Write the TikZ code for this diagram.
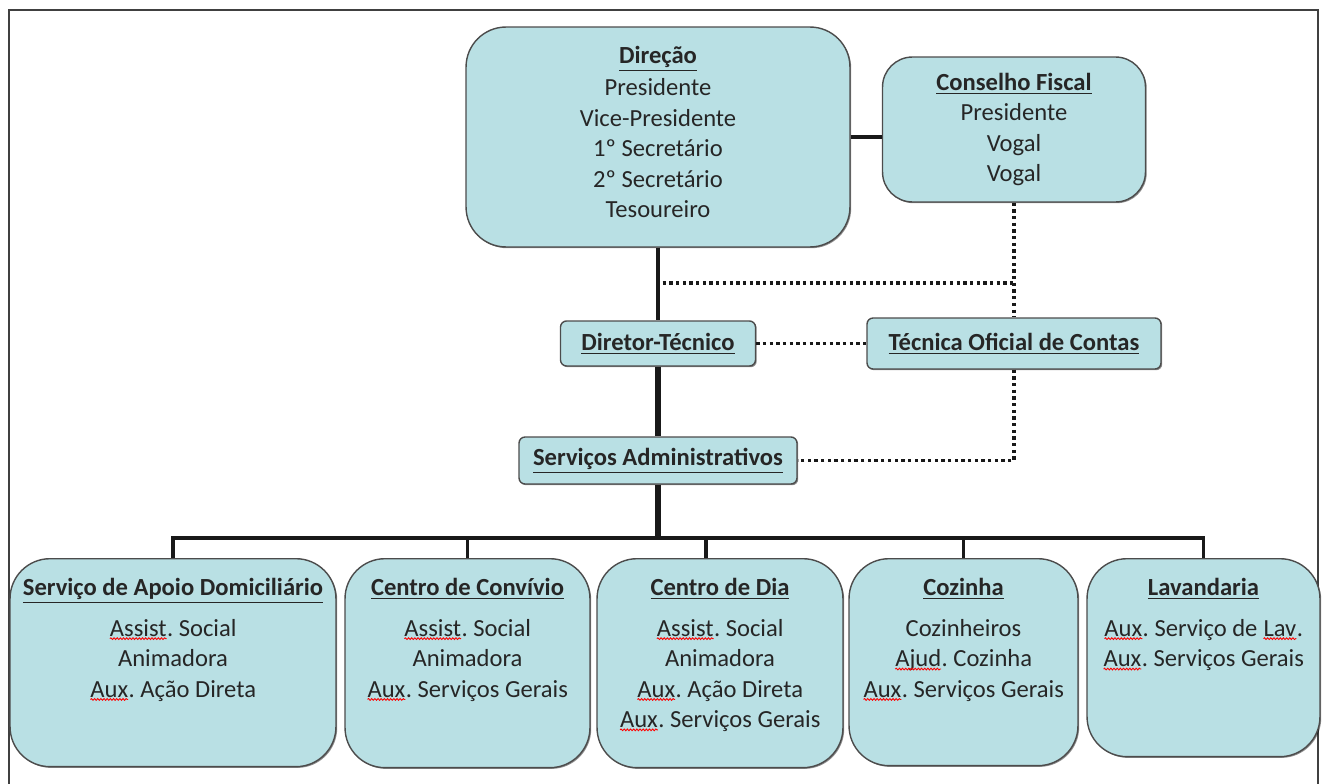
\documentclass[tikz,border=0pt]{standalone}
\usepackage{fontspec}
\setmainfont{Carlito}
\usepackage{tikz}
\usetikzlibrary{positioning,shadows,decorations.pathmorphing}
\definecolor{boxfill}{RGB}{185,224,228}
\definecolor{txtgray}{RGB}{38,38,38}
\tikzstyle{box}=[draw=black!70, fill=boxfill, line width=0.8pt, drop shadow={shadow xshift=0.7pt, shadow yshift=-0.7pt, opacity=0.45, fill=black}, font=\fontsize{14}{17.3}\selectfont, text=txtgray, align=center, inner sep=0pt]
\tikzstyle{bigbox}=[box, rounded corners=0.8cm]
\tikzstyle{smallbox}=[box, rounded corners=0.12cm]
\tikzstyle{txt}=[font=\fontsize{14}{17.3}\selectfont, text=txtgray, align=center, inner sep=0pt]
\tikzstyle{link}=[line width=1.9pt, black!90]
\tikzstyle{thicklink}=[line width=3.6pt, black!90]
\tikzstyle{dotlink}=[line width=1.9pt, black!90, dash pattern=on 1.9pt off 1.9pt]
\newcommand{\hd}[1]{\underline{\textbf{#1}}}
\newcommand{\sq}[1]{\tikz[baseline=(w.base)]{\node[inner sep=0pt, outer sep=0pt] (w) {#1};
    \draw[red, line width=0.5pt, decorate, decoration={snake, amplitude=0.5pt, segment length=1.8pt}]
        ([yshift=-1.2pt]w.base west) -- ([yshift=-1.2pt]w.base east);}}
\frenchspacing

\begin{document}
\begin{tikzpicture}[x=0.02cm, y=-0.02cm]
    \useasboundingbox (0,0) rectangle (1325,784);
    \draw[line width=1.1pt, black!75] (9,784) -- (9,10) -- (1318,10) -- (1318,784);
    % top level
    \node[bigbox, minimum width=7.68cm, minimum height=4.4cm] (dir) at (658,137)
        {\hd{Direção}\\[1pt] Presidente\\ Vice-Presidente\\ 1º Secretário\\ 2º Secretário\\ Tesoureiro\\[-11.5pt]};
    \node[bigbox, rounded corners=0.6cm, minimum width=5.26cm, minimum height=2.9cm] (cf) at (1014,129.5)
        {\hd{Conselho Fiscal}\\ Presidente\\ Vogal\\ Vogal};
    \node[smallbox, minimum width=3.9cm, minimum height=0.9cm] (dt) at (658,343.5) {\hd{Diretor-Técnico}};
    \node[smallbox, minimum width=5.88cm, minimum height=1.02cm] (toc) at (1014,343.5) {\hd{Técnica Oficial de Contas}};
    \node[smallbox, minimum width=5.56cm, minimum height=0.94cm] (sa) at (658,460.5) {\hd{Serviços Administrativos}};
    \coordinate (j1) at (1014,283);
    \coordinate (hub) at (658,538);
    % services
    \node[bigbox, minimum width=6.52cm, minimum height=4.16cm, anchor=north] (sad) at (173,558) {};
    \node[bigbox, minimum width=4.9cm, minimum height=4.18cm, anchor=north] (cc) at (467.5,558) {};
    \node[bigbox, minimum width=4.92cm, minimum height=4.18cm, anchor=north] (cd) at (720,558) {};
    \node[bigbox, minimum width=4.58cm, minimum height=4.14cm, anchor=north] (coz) at (963.5,558) {};
    \node[bigbox, minimum width=4.66cm, minimum height=3.96cm, anchor=north] (lav) at (1203.5,558) {};
    \node[txt, below=0.4cm of sad.north] (sadt)
        {\hd{Serviço de Apoio Domiciliário}\\[6pt] \sq{Assist}. Social\\ Animadora\\ \sq{Aux}. Ação Direta};
    \node[txt, below=0.4cm of cc.north] (cct)
        {\hd{Centro de Convívio}\\[6pt] \sq{Assist}. Social\\ Animadora\\ \sq{Aux}. Serviços Gerais};
    \node[txt, below=0.4cm of cd.north] (cdt)
        {\hd{Centro de Dia}\\[6pt] \sq{Assist}. Social\\ Animadora\\ \sq{Aux}. Ação Direta\\ \sq{Aux}. Serviços Gerais};
    \node[txt, below=0.4cm of coz.north] (cozt)
        {\hd{Cozinha}\\[6pt] Cozinheiros\\ \sq{Ajud}. Cozinha\\ \sq{Aux}. Serviços Gerais};
    \node[txt, below=0.4cm of lav.north] (lavt)
        {\hd{Lavandaria}\\[6pt] \sq{Aux}. Serviço de \sq{Lav}.\\ \sq{Aux}. Serviços Gerais};
    % links
    \draw[link] (dir.east |- 0,137) -- (cf.west |- 0,137);
    \draw[link] (dir.south) -- (dt.north);
    \draw[dotlink] (dir.south) |- (j1);
    \draw[dotlink] (cf.south) -- (toc.north);
    \draw[dotlink] (dt.east) -- (toc.west);
    \draw[dotlink] (toc.south) |- (sa.east);
    \draw[thicklink] (dt.south) -- (sa.north);
    \draw[thicklink] (sa.south) -- (hub);
    \draw[link] (hub) -| (sad.north);
    \draw[link] (hub) -| (cc.north);
    \draw[link] (hub) -| ([xshift=-0.28cm]cd.north);
    \draw[link] (hub) -| (coz.north);
    \draw[link] (hub) -| (lav.north);
\end{tikzpicture}
\end{document}
